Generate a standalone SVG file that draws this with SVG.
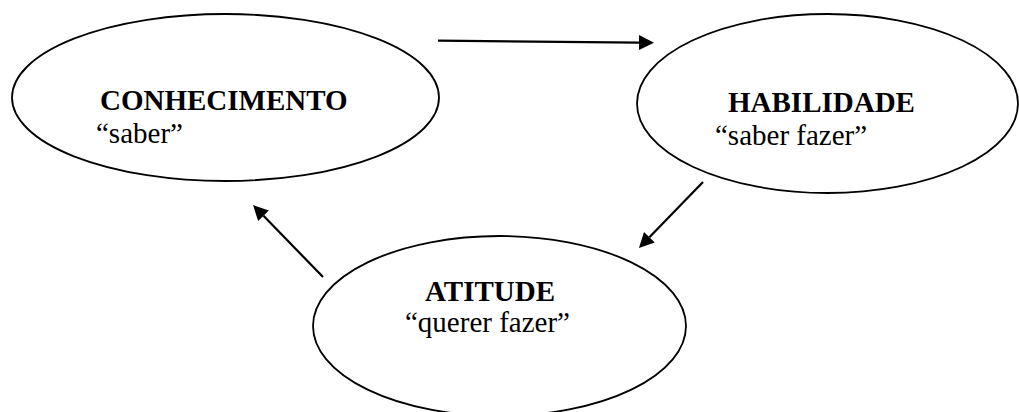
<svg xmlns="http://www.w3.org/2000/svg" width="1019" height="412" viewBox="0 0 1019 412">
  <style>
    .node { fill: #ffffff; stroke: #000000; stroke-width: 1.8; }
    .title { font-family: "Liberation Serif", "Times New Roman", serif; font-size: 29px; font-weight: bold; fill: #000000; }
    .sub { font-family: "Liberation Serif", "Times New Roman", serif; font-size: 29px; fill: #000000; }
    .conn { stroke: #000000; stroke-width: 2.2; fill: none; marker-end: url(#arrow); }
  </style>
  <defs>
    <marker id="arrow" markerUnits="userSpaceOnUse" markerWidth="16" markerHeight="16" refX="0" refY="7.5" orient="auto">
      <path d="M0,0 L15,7.5 L0,15 z" fill="#000000"/>
    </marker>
  </defs>
  <rect width="1019" height="412" fill="#ffffff"/>
  <g id="connectors">
    <line class="conn" x1="438" y1="40.7" x2="639" y2="42.6"/>
    <line class="conn" x1="703" y1="182" x2="649.4" y2="237.2"/>
    <line class="conn" x1="323" y1="277" x2="263.5" y2="215.8"/>
  </g>
  <g id="conhecimento">
    <ellipse class="node" cx="225.5" cy="97.5" rx="213.5" ry="83.5"/>
    <text class="title" x="100" y="110">CONHECIMENTO</text>
    <text class="sub" x="96" y="143">“saber”</text>
  </g>
  <g id="habilidade">
    <ellipse class="node" cx="827.5" cy="103.5" rx="190.5" ry="89.5"/>
    <text class="title" x="728" y="112">HABILIDADE</text>
    <text class="sub" x="715" y="145">“saber fazer”</text>
  </g>
  <g id="atitude">
    <ellipse class="node" cx="499.5" cy="326" rx="186.5" ry="90"/>
    <text class="title" x="425" y="301">ATITUDE</text>
    <text class="sub" x="405" y="332">“querer fazer”</text>
  </g>
</svg>
